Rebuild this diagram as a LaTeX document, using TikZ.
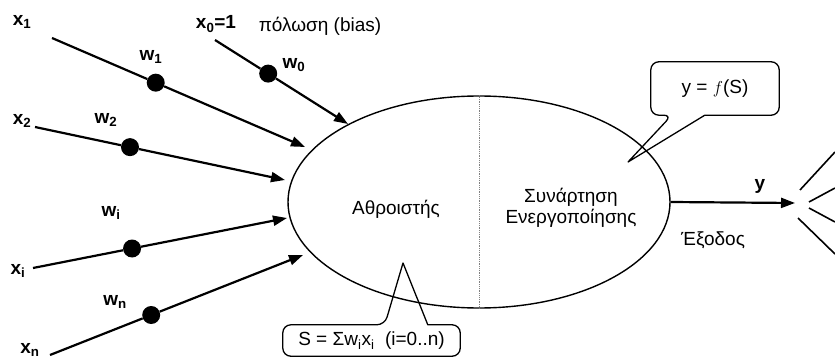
\documentclass[tikz,border=0pt]{standalone}
\usepackage{fontspec}
\setmainfont{Liberation Sans}
\usetikzlibrary{arrows.meta,positioning,calc,shapes.geometric}
\tikzset{
  lbl/.style={font=\fontsize{19}{21}\selectfont,inner sep=0pt},
  var/.style={lbl,font=\fontsize{19}{21}\selectfont\bfseries},
  wdot/.style={circle,fill=black,inner sep=0pt,minimum size=18pt},
  wire/.style={line width=2.2pt},
  ar/.style={wire,-{Triangle[length=14pt,width=10pt]}},
  cell/.style={ellipse,draw,line width=1.4pt,inner sep=0pt,minimum width=382pt,minimum height=212pt},
  callout/.style={draw,line width=1.3pt,line join=round},
  divider/.style={gray,densely dotted,line width=0.8pt},
  fan/.style={line width=1.6pt},
}
\begin{document}
\begin{tikzpicture}[x=1pt,y=-1pt]
\useasboundingbox (0,0) rectangle (835,358);
% neuron body
\node[cell] (neuron) at (479,202) {};
\draw[divider] (neuron.north) -- (neuron.south);
\node[lbl] (sum) at (396,209) {Αθροιστής};
\node[lbl,align=center] (act) at (571,208) {Συνάρτηση\\Ενεργοποίησης};
% bias input
\node[var] (x0) at (216,24) {x\textsubscript{0}=1};
\node[lbl] (bias) at (320,26) {πόλωση (bias)};
\node[var] (w0) at (294,65) {w\textsubscript{0}};
\coordinate (s0) at (215,40);
\coordinate (t0) at (348,124);
\node[wdot] (d0) at ($(s0)!0.40!(t0)$) {};
\draw[wire] (s0) -- (d0);
\draw[ar] (d0) -- (t0);
% input 1
\node[var] (x1) at (22,22) {x\textsubscript{1}};
\node[var] (w1) at (151,57) {w\textsubscript{1}};
\coordinate (s1) at (52,38);
\coordinate (t1) at (305,147);
\node[wdot] (d1) at ($(s1)!0.41!(t1)$) {};
\draw[wire] (s1) -- (d1);
\draw[ar] (d1) -- (t1);
% input 2
\node[var] (x2) at (22,121) {x\textsubscript{2}};
\node[var] (w2) at (106,120) {w\textsubscript{2}};
\coordinate (s2) at (35,127);
\coordinate (t2) at (285,180);
\node[wdot] (d2) at ($(s2)!0.38!(t2)$) {};
\draw[wire] (s2) -- (d2);
\draw[ar] (d2) -- (t2);
% input i
\node[var] (xi) at (18,271) {x\textsubscript{i}};
\node[var] (wi) at (111,213) {w\textsubscript{i}};
\coordinate (si) at (33,268);
\coordinate (ti) at (287,218);
\node[wdot] (di) at ($(si)!0.39!(ti)$) {};
\draw[wire] (si) -- (di);
\draw[ar] (di) -- (ti);
% input n
\node[var] (xn) at (30,350) {x\textsubscript{n}};
\node[var] (wn) at (115,302) {w\textsubscript{n}};
\coordinate (sn) at (50,355);
\coordinate (tn) at (303,255);
\node[wdot] (dn) at ($(sn)!0.40!(tn)$) {};
\draw[wire] (sn) -- (dn);
\draw[ar] (dn) -- (tn);
% output
\coordinate (yend) at (795,203);
\draw[ar] (neuron.east) -- (yend);
\node[var] (ylbl) at (760,186) {y};
\node[lbl] (out) at (713,240) {Έξοδος};
\coordinate (f1a) at (800,190); \coordinate (f1b) at (835,152);
\coordinate (f2a) at (809,202); \coordinate (f2b) at (835,188);
\coordinate (f3a) at (809,208); \coordinate (f3b) at (835,222);
\coordinate (f4a) at (798,218); \coordinate (f4b) at (835,254);
\draw[fan] (f1a) -- (f1b);
\draw[fan] (f2a) -- (f2b);
\draw[fan] (f3a) -- (f3b);
\draw[fan] (f4a) -- (f4b);
% callouts
\node[lbl,minimum width=128pt,minimum height=53pt] (fbox) at (715,88.5) {y = $f$(S)};
\coordinate (ftip) at (628,162);
\draw[callout] ($(fbox.south west)+(54,0)$) [rounded corners=8pt] -- (fbox.south east)
  -- (fbox.north east) -- (fbox.north west) -- (fbox.south west)
  -- ($(fbox.south west)+(21,0)$) [sharp corners] -- (ftip) -- cycle;
\node[lbl,minimum width=177pt,minimum height=31pt] (sbox) at (371.5,340.5)
  {S = Σw\textsubscript{i}x\textsubscript{i}\ \ (i=0..n)};
\coordinate (stip) at (403,263);
\draw[callout] ($(sbox.north west)+(145,0)$) [rounded corners=8pt] -- (sbox.north east)
  -- (sbox.south east) -- (sbox.south west) -- (sbox.north west)
  -- ($(sbox.north west)+(102,0)$) [sharp corners] -- (stip) -- cycle;
\end{tikzpicture}
\end{document}
